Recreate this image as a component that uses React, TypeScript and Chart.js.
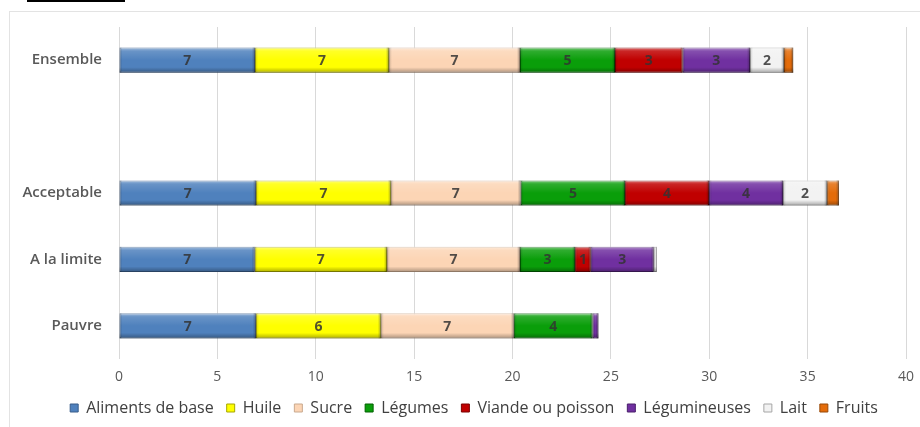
import React, { useEffect, useRef } from "react";
import { Chart, registerables } from "chart.js";

Chart.register(...registerables);

const categories = ["Ensemble", "", "Acceptable", "A la limite", "Pauvre"];
const seriesNames = ["Aliments de base", "Huile", "Sucre", "Légumes", "Viande ou poisson", "Légumineuses", "Lait", "Fruits"];
const alimentsDeBase = [6.91, null, 6.96, 6.9, 6.96];
const huile = [6.81, null, 6.86, 6.72, 6.35];
const sucre = [6.66, null, 6.6, 6.76, 6.76];
const legumes = [4.83, null, 5.3, 2.8, 4.0];
const viande = [3.44, null, 4.27, 0.8, 0];
const legumineuses = [3.42, null, 3.76, 3.2, 0.3];
const lait = [1.73, null, 2.24, 0.15, 0];
const fruits = [0.47, null, 0.6, 0, 0];
const xTicks = [0, 5, 10, 15, 20, 25, 30, 35, 40];

const seriesValues = [alimentsDeBase, huile, sucre, legumes, viande, legumineuses, lait, fruits];
const fills = ["#4F81BD", "#FFFF00", "#FCD5B5", "#0A9E0A", "#C00000", "#7030A0", "#F2F2F2", "#E46C0A"];
const borders = ["#385D8A", "#A6A600", "#C9A98E", "#006000", "#7A0000", "#4A1F6B", "#A6A6A6", "#984807"];

const FONT = "'Open Sans', 'Noto Sans', sans-serif";

const shiftLegend = {
  id: "shiftLegend",
  afterLayout(chart: any) {
    const lg = chart.legend;
    if (lg) {
      lg.left += 21;
      lg.right += 21;
    }
  },
};

const bevelAndLabels = {
  id: "bevelAndLabels",
  afterDatasetsDraw(chart: any) {
    const ctx = chart.ctx;
    ctx.save();
    chart.data.datasets.forEach((ds: any, di: number) => {
      const meta = chart.getDatasetMeta(di);
      meta.data.forEach((el: any, i: number) => {
        const v = ds.data[i];
        if (v == null || v === 0) return;
        const { x, y, base, height } = el.getProps(["x", "y", "base", "height"], true);
        const left = Math.min(x, base);
        const w = Math.abs(x - base);
        const top = y - height / 2;
        if (w <= 0) return;
        const g = ctx.createLinearGradient(0, top, 0, top + height);
        g.addColorStop(0, "rgba(255,255,255,0.5)");
        g.addColorStop(0.14, "rgba(255,255,255,0.15)");
        g.addColorStop(0.5, "rgba(255,255,255,0)");
        g.addColorStop(0.78, "rgba(0,0,0,0)");
        g.addColorStop(1, "rgba(0,0,0,0.32)");
        ctx.fillStyle = g;
        ctx.fillRect(left, top, w, height);
        const gh = ctx.createLinearGradient(left, 0, left + w, 0);
        const e = Math.min(0.5, 3 / w);
        gh.addColorStop(0, "rgba(0,0,0,0.18)");
        gh.addColorStop(e, "rgba(0,0,0,0)");
        gh.addColorStop(1 - e, "rgba(0,0,0,0)");
        gh.addColorStop(1, "rgba(0,0,0,0.35)");
        ctx.fillStyle = gh;
        ctx.fillRect(left, top, w, height);
        if (v >= 0.75 && di < 7) {
          ctx.fillStyle = "rgba(50,50,50,0.85)";
          ctx.font = `bold 14px ${FONT}`;
          ctx.textAlign = "center";
          ctx.textBaseline = "middle";
          ctx.fillText(String(Math.round(v)), left + w / 2, y + 1);
        }
      });
    });
    ctx.restore();
  },
};

export default function App() {
  const ref = useRef<HTMLCanvasElement | null>(null);
  useEffect(() => {
    if (!ref.current) return;
    const chart = new Chart(ref.current, {
      type: "bar",
      data: {
        labels: categories,
        datasets: seriesNames.map((name, i) => ({
          label: name,
          data: seriesValues[i],
          backgroundColor: fills[i],
          borderColor: borders[i],
          borderWidth: 1,
          borderSkipped: false,
          barPercentage: 0.38,
          categoryPercentage: 1,
        })),
      },
      options: {
        indexAxis: "y",
        animation: false,
        responsive: false,
        layout: { padding: { left: 0, right: 14, top: 27, bottom: 1 } },
        scales: {
          x: {
            stacked: true,
            min: 0,
            max: 40,
            afterBuildTicks(scale: any) {
              scale.ticks = xTicks.map((v) => ({ value: v }));
            },
            afterFit(scale: any) {
              scale.height = 28;
              scale.paddingRight = 0;
              scale.paddingLeft = 0;
            },
            grid: { color: "#D9D9D9", drawTicks: false, lineWidth: 1 },
            border: { display: false },
            ticks: { color: "#595959", font: { family: FONT, size: 14 }, padding: 10 },
          },
          y: {
            stacked: true,
            afterFit(scale: any) {
              scale.width = 119;
            },
            grid: { display: false, drawTicks: false },
            border: { display: false },
            ticks: { color: "#595959", font: { family: FONT, size: 15, weight: "600" }, padding: 17 },
          },
        },
        plugins: {
          legend: {
            position: "bottom",
            labels: {
              boxWidth: 8,
              boxHeight: 8,
              padding: 13,
              color: "#404040",
              font: { family: FONT, size: 16 },
            },
          },
          tooltip: { enabled: false },
        },
      },
      plugins: [bevelAndLabels, shiftLegend],
    });
    return () => chart.destroy();
  }, []);

  return (
    <div style={{ position: "fixed", left: 0, top: 0, width: 920, height: 427, background: "#fff", overflow: "hidden" }}>
      <div style={{ position: "absolute", left: 27, top: 0, width: 98, height: 2, background: "#000" }} />
      <div
        style={{
          position: "absolute",
          left: 9,
          top: 11,
          width: 920,
          height: 430,
          borderLeft: "1px solid #E3E3E3",
          borderTop: "1px solid #E3E3E3",
        }}
      />
      <canvas ref={ref} width={920} height={427} style={{ position: "absolute", left: 0, top: 0, width: 920, height: 427 }} />
    </div>
  );
}
